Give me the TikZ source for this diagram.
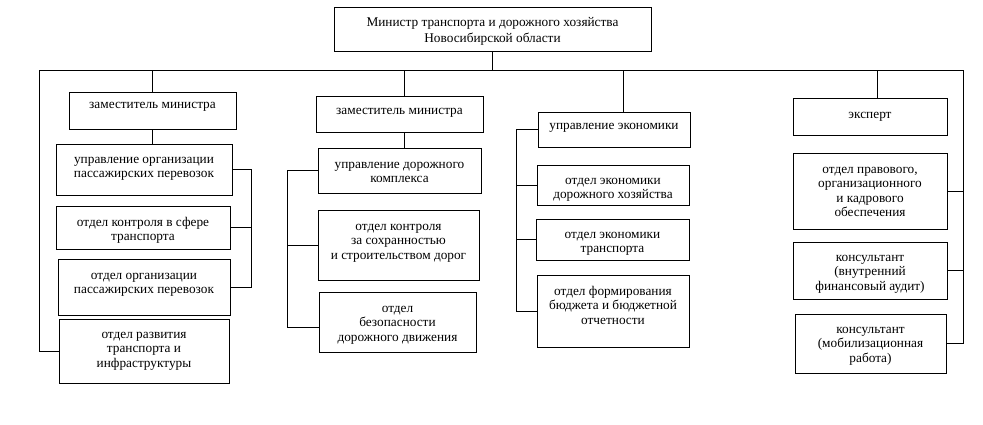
\documentclass[tikz,border=0pt]{standalone}
\usepackage{fontspec}
\setmainfont{Liberation Serif}
\usetikzlibrary{positioning}
\newcommand{\lbl}[1]{\begin{tabular}[t]{@{}c@{}}#1\end{tabular}}
\tikzset{
  unit/.style={draw, inner sep=0pt},
  txt/.style={inner sep=0pt, anchor=north, font=\fontsize{13.3}{14.5}\selectfont},
}
\begin{document}
\begin{tikzpicture}[x=1pt,y=-1pt,line width=0.8pt]
    \useasboundingbox (0,0) rectangle (983,424);
    \node[unit, minimum width=317, minimum height=44] (mins) at (492.5,29) {};
    \node[txt, font=\fontsize{13.3}{16}\selectfont, below=8pt of mins.north] (t-mins)
         {\lbl{Министр транспорта и дорожного хозяйства\\ Новосибирской области}};
    \node[unit, minimum width=167, minimum height=37] (zam1) at (152.5,110.5) {};
    \node[txt, below=6pt of zam1.north] (t-zam1) {\lbl{заместитель министра}};
    \node[unit, minimum width=167, minimum height=36] (zam2) at (399.5,114) {};
    \node[txt, below=8pt of zam2.north] (t-zam2) {\lbl{заместитель министра}};
    \node[unit, minimum width=152, minimum height=35] (uecon) at (614,129.5) {};
    \node[txt, below=7pt of uecon.north] (t-uecon) {\lbl{управление экономики}};
    \node[unit, minimum width=154, minimum height=37] (expert) at (870,116.5) {};
    \node[txt, below=10pt of expert.north] (t-expert) {\lbl{эксперт}};
    \node[unit, minimum width=176, minimum height=51] (upo) at (144,169.5) {};
    \node[txt, below=9pt of upo.north] (t-upo) {\lbl{управление организации\\ пассажирских перевозок}};
    \node[unit, minimum width=174, minimum height=43] (okst) at (143,227.5) {};
    \node[txt, below=10pt of okst.north] (t-okst) {\lbl{отдел контроля в сфере\\ транспорта}};
    \node[unit, minimum width=172, minimum height=56] (oopp) at (144,287) {};
    \node[txt, below=10pt of oopp.north] (t-oopp) {\lbl{отдел организации\\ пассажирских перевозок}};
    \node[unit, minimum width=170, minimum height=64] (orti) at (144,351) {};
    \node[txt, below=9pt of orti.north] (t-orti) {\lbl{отдел развития\\ транспорта и\\ инфраструктуры}};
    \node[unit, minimum width=163, minimum height=45] (udk) at (399.5,170.5) {};
    \node[txt, below=10pt of udk.north] (t-udk) {\lbl{управление дорожного\\ комплекса}};
    \node[unit, minimum width=161, minimum height=70] (oksd) at (398.5,245) {};
    \node[txt, below=10pt of oksd.north] (t-oksd) {\lbl{отдел контроля\\ за сохранностью\\ и строительством дорог}};
    \node[unit, minimum width=157, minimum height=60] (obdd) at (397.5,322) {};
    \node[txt, below=10pt of obdd.north] (t-obdd) {\lbl{отдел\\ безопасности\\ дорожного движения}};
    \node[unit, minimum width=152, minimum height=40] (oedh) at (613,185) {};
    \node[txt, below=9pt of oedh.north] (t-oedh) {\lbl{отдел экономики\\ дорожного хозяйства}};
    \node[unit, minimum width=153, minimum height=41] (oet) at (612.5,239.5) {};
    \node[txt, below=9pt of oet.north] (t-oet) {\lbl{отдел экономики\\ транспорта}};
    \node[unit, minimum width=152, minimum height=72] (ofbo) at (613,311) {};
    \node[txt, below=10pt of ofbo.north] (t-ofbo) {\lbl{отдел формирования\\ бюджета и бюджетной\\ отчетности}};
    \node[unit, minimum width=154, minimum height=76] (opok) at (870,191) {};
    \node[txt, below=10pt of opok.north] (t-opok) {\lbl{отдел правового,\\ организационного\\ и кадрового\\ обеспечения}};
    \node[unit, minimum width=154, minimum height=57] (kvfa) at (870,270.5) {};
    \node[txt, below=9pt of kvfa.north] (t-kvfa) {\lbl{консультант\\ (внутренний\\ финансовый аудит)}};
    \node[unit, minimum width=151, minimum height=59] (kmr) at (870.5,343.5) {};
    \node[txt, below=9pt of kmr.north] (t-kmr) {\lbl{консультант\\ (мобилизационная\\ работа)}};
    \coordinate (busL) at (39,70);
    \coordinate (busR) at (963,70);
    \coordinate (c2) at (404,70);
    \coordinate (c3) at (623,70);
    \coordinate (c4) at (877,70);
    \coordinate (b1) at (251,0);
    \coordinate (b2) at (287,0);
    \coordinate (b3) at (516,0);
    \draw (mins.south) -- (mins.south |- busL);
    \draw (busL) -- (busR);
    \draw (zam1.north) -- (zam1.north |- busL);
    \draw (zam1.south) -- (zam1.south |- upo.north);
    \draw (c2) -- (c2 |- zam2.north);
    \draw (c2 |- zam2.south) -- (c2 |- udk.north);
    \draw (c3) -- (c3 |- uecon.north);
    \draw (c4) -- (c4 |- expert.north);
    \draw (busL) |- (orti.west);
    \draw (upo.east) -- (b1 |- upo.east) -- (b1 |- oopp.east) -- (oopp.east);
    \draw (okst.east) -- (b1 |- okst.east);
    \draw (udk.west) -- (b2 |- udk.west) -- ([yshift=-5pt]b2 |- obdd.west) -- ([yshift=-5pt]obdd.west);
    \draw (oksd.west) -- (b2 |- oksd.west);
    \draw (uecon.west) -- (b3 |- uecon.west) -- (b3 |- ofbo.west) -- (ofbo.west);
    \draw (oedh.west) -- (b3 |- oedh.west);
    \draw (oet.west) -- (b3 |- oet.west);
    \draw (busR) |- (kmr.east);
    \draw (opok.east) -- (busR |- opok.east);
    \draw (kvfa.east) -- (busR |- kvfa.east);
\end{tikzpicture}
\end{document}
